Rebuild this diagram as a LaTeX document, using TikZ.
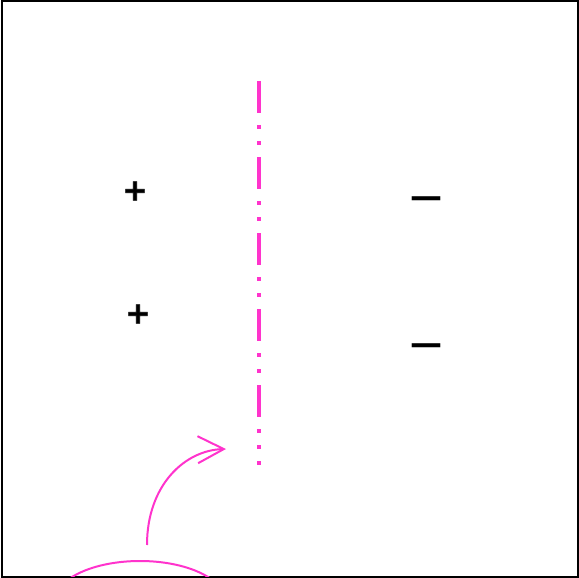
\documentclass[tikz,border=0pt]{standalone}
\usepackage{fontspec}
\newfontfamily\signfont{DejaVu Sans Bold}[FakeBold=2]
\newfontfamily\barfont{DejaVu Sans Bold}
\usetikzlibrary{arrows.meta,shapes.geometric}
\definecolor{pinkline}{HTML}{FF33CC}
\tikzset{
  sign/.style={inner sep=0pt, font=\signfont\fontsize{30}{30}\selectfont, text=black},
  minussign/.style={inner sep=0pt, font=\barfont\fontsize{32}{32}\selectfont, text=black},
  axis/.style={draw=pinkline, line width=4pt, dash pattern=on 32pt off 12pt on 4pt off 12pt on 4pt off 12pt},
  pinkstroke/.style={draw=pinkline, line width=2pt},
}
\begin{document}
\begin{tikzpicture}[x=1pt,y=-1pt]
\useasboundingbox (0,0) rectangle (579,578);
\draw[line width=2.4pt] (2,1) rectangle (578,577);
\coordinate (axtop) at (259,81);
\coordinate (axbot) at (259,465);
\draw[axis] (axtop) -- (axbot);
\node[sign] (p1) at (135,191) {+};
\node[sign] (p2) at (138,314) {+};
\node[minussign] (m1) at (426,202) {—};
\node[minussign] (m2) at (426,349) {—};
\coordinate (arstart) at (147,545);
\coordinate (artip) at (226,449);
\draw[pinkstroke, -{Straight Barb[length=26pt,width=27pt,line width=2pt]}] (arstart) .. controls (147,485) and (185,450) .. (artip);
\begin{scope}
\clip (3,2) rectangle (577,576);
\node[pinkstroke, ellipse, minimum width=170pt, minimum height=80pt] (blob) at (140,601) {};
\end{scope}
\end{tikzpicture}
\end{document}
